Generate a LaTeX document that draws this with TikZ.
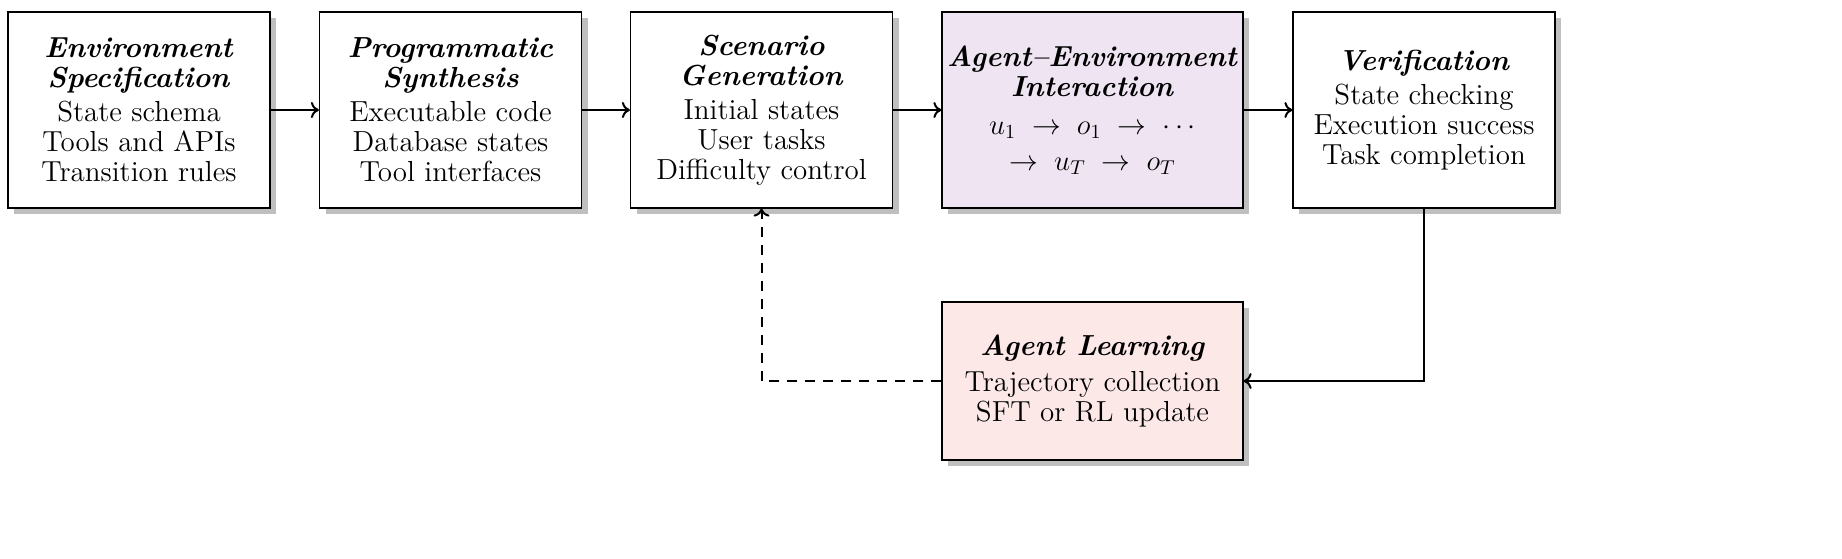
\documentclass[tikz,border=0pt]{standalone}
\usetikzlibrary{shadows,arrows.meta}
\begin{document}
\begin{tikzpicture}[x=0.5pt,y=-0.5pt,
  box/.style={draw=black,line width=0.6pt,fill=white,minimum width=131pt,minimum height=98pt,align=center,
    font=\fontsize{14.5}{15}\selectfont,drop shadow={shadow xshift=3pt,shadow yshift=-3pt,fill=black!25,opacity=1},inner sep=2pt},
  wide/.style={minimum width=150.5pt},
  arr/.style={line width=1pt,-{To[length=4pt,width=8pt]}}]
\newcommand{\ttl}[1]{\textbf{\textit{#1}}}
\node[box] (a) at (139,110) {\ttl{Environment}\\\ttl{Specification}\\[2pt]State schema\\Tools and APIs\\Transition rules};
\node[box] (b) at (450.5,110) {\ttl{Programmatic}\\\ttl{Synthesis}\\[2pt]Executable code\\Database states\\Tool interfaces};
\node[box] (c) at (761.5,110) {\ttl{Scenario}\\\ttl{Generation}\\[2pt]Initial states\\User tasks\\Difficulty control};
\node[box,wide,fill={rgb,255:red,239;green,228;blue,242}] (d) at (1092.5,110) {\ttl{Agent--Environment}\\\ttl{Interaction}\\[4pt]$u_1 \;\to\; o_1 \;\to\; \cdots$\\[3pt]$\to\; u_T \;\to\; o_T$};
\node[box] (e) at (1424,110) {\ttl{Verification}\\[2pt]State checking\\Execution success\\Task completion};
\node[box,wide,minimum height=79pt,fill={rgb,255:red,253;green,232;blue,232}] (f) at (1092.5,381) {\ttl{Agent Learning}\\[3pt]Trajectory collection\\SFT or RL update};
\draw[arr] (a) -- (b);
\draw[arr] (b) -- (c);
\draw[arr] (c) -- (d);
\draw[arr] (d) -- (e);
\draw[arr] (e.south) |- (f.east);
\draw[arr,dash pattern=on 5pt off 4pt] (f.west) -| (c.south);
\pgfresetboundingbox
\path[use as bounding box] (0,0) rectangle (1842,558);
\end{tikzpicture}
\end{document}
